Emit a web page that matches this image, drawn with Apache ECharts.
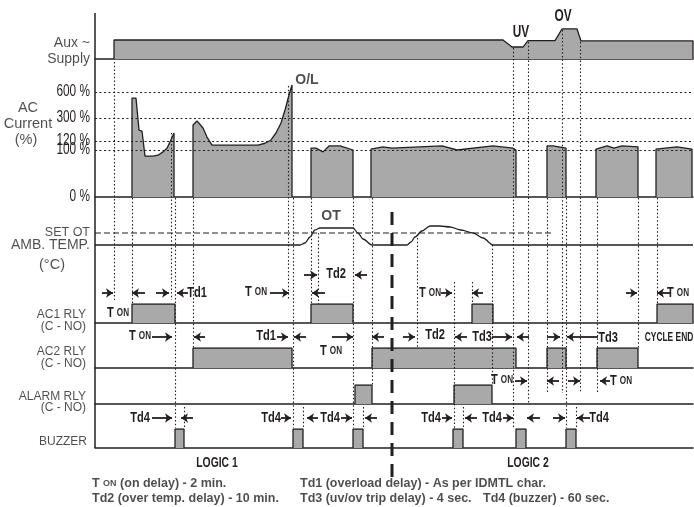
<!DOCTYPE html>
<html>
<head>
<meta charset="utf-8">
<script src="https://cdn.jsdelivr.net/npm/echarts@6/dist/echarts.min.js"></script>
<style>
html, body { margin: 0; padding: 0; background: #fff; }
#chart { width: 694px; height: 507px; }
</style>
</head>
<body>
<div id="chart"></div>
<script>
// ---- data (time runs 0..598 across the diagram) ----
const timeMax = 598;

// aux supply, % of rated
const auxSupply = [[19,0],[19,100],[408,100],[417,63],[428,63],[433,97],[460,97],[467,158],[482,158],[486,95],[598,95],[598,0]];

// AC current pulses, [time, % of rated]
const currentPulses = [
    [[37,0],[37,530],[41,530],[44,206],[47,198],[50,87],[58,87],[63,89],[68,96],[72,104],[75,118],[79,183],[79,0]],
    [[98,0],[98,245],[102,277],[108,222],[112,151],[117,111],[163,111],[170,115],[176,128],[181,183],[186,261],[190,392],[194,565],[197,681],[197,0]],
    [[216,0],[216,104],[221,104],[228,96],[234,109],[245,109],[258,100],[258,0]],
    [[276,0],[276,102],[288,107],[297,104],[347,109],[362,100],[398,109],[418,104],[421,100],[421,0]],
    [[452,0],[452,109],[458,109],[471,104],[471,0]],
    [[501,0],[501,102],[512,109],[519,104],[527,109],[543,107],[543,0]],
    [[561,0],[561,102],[582,107],[597,102],[597,0]]
];
const currentTicks = [0, 100, 120, 300, 600];
const currentLevels = [0, 47, 56, 79, 105];   // where each tick sits on the drawn scale

// ambient temperature, deg C
const ambTemp = [[0,35],[205,35],[210,37],[215,43],[220,50],[225,52],[230,52],[258,52],[263,47],[268,41],[277,35],
    [312,35],[316,38],[320,43],[327,49],[335,54],[345,54],[355,53],[366,50],[378,47],[388,42],[398,35],[598,35]];
const setOT = 47;
const setOTEnd = 457;

// relay / buzzer ON intervals [from, to]
const ac1On = [[37,80],[216,258],[377,398],[562,598]];
const ac2On = [[98,197],[277,421],[452,471],[502,543]];
const alarmOn = [[260,277],[359,397]];
const buzzerOn = [[80,89],[198,208],[258,268],[358,368],[421,431],[471,481]];

// event markers [time, from row, to row] and timing arrows [from, to, row]
const guideLines = [[19,62,300],[37,198,304],[76,133,300],[80,198,428],[89,407,428],[98,198,348],[193,86,300],
    [198,198,428],[208,407,428],[216,198,304],[223,233,304],[258,198,428],[268,407,428],[277,198,385],[322,238,348],
    [359,282,428],[368,407,428],[377,282,304],[397,245,385],[418,48,428],[433,42,404],[452,198,393],[467,30,393],
    [471,198,428],[481,407,428],[485,42,393],[502,198,393],[543,198,348],[562,198,304]];
const arrows = [
    [7,18,293],[50,37,293],[61,74,293],[93,82,293],[175,194,293],[230,217,293],[346,357,293],[388,377,293],[531,542,293],[575,562,293],
    [209,222,275],[272,260,275],
    [57,77,337],[110,99,337],[182,193,337],[211,199,337],[237,258,337],[289,277,337],[308,320,337],[372,360,337],[397,417,337],[434,422,337],[452,465,337],[503,472,337],
    [420,432,381],[464,452,381],[473,485,381],[515,505,381],
    [57,77,418],[98,86,418],[186,196,418],[223,212,418],[246,257,418],[282,270,418],[347,357,418],[382,370,418],[408,418,418],[445,432,418],[458,470,418],[495,482,418]
];
const logicSplit = 297;

// ---- text ----
const notes = [
    [23,313,'T ON'],[102,293,'Td1'],[161,292,'T ON'],[241,274,'Td2'],[335,293,'T ON'],[583,293,'T ON'],
    [45,336,'T ON'],[171,336,'Td1'],[236,351,'T ON'],[340,335,'Td2'],[387,337,'Td3'],[513,338,'Td3'],
    [407,380,'T ON'],[526,381,'T ON'],
    [45,418,'Td4'],[176,418,'Td4'],[235,418,'Td4'],[336,418,'Td4'],[397,418,'Td4'],[504,418,'Td4']
];
const events = [[212,80,'O/L'],[236,216,'OT']];
const narrowEvents = [[426,33,'UV'],[468,17,'OV']];
const logicLabels = [[122,463,'LOGIC 1'],[433,463,'LOGIC 2']];
const footer = [[-3,484,'T ON (on delay) - 2 min.'],[205,484,'Td1 (overload delay) - As per IDMTL char.'],
    [-3,499,'Td2 (over temp. delay) - 10 min.'],[205,499,'Td3 (uv/ov trip delay) - 4 sec.'],[388,499,'Td4 (buzzer) - 60 sec.']];

const INK = '#231f20';
const FILL = '#a9a9a9';
const FS = '"Liberation Sans",Arial,sans-serif';

function levelOf(p) {
    const n = currentTicks.length;
    for (let i = 1; i < n; i++) {
        if (p <= currentTicks[i] || i === n - 1) {
            const a = currentTicks[i - 1], b = currentTicks[i];
            return currentLevels[i - 1] + (p - a) / (b - a) * (currentLevels[i] - currentLevels[i - 1]);
        }
    }
}
const tOn = s => s.replace('T ON', 'T {s|ON}');

const rows = [
    { left: 0, right: 1, top: 0, bottom: 0 },   // 0 overlay
    { left: 95, right: 1, top: 9, height: 50 },   // 1 aux
    { left: 95, right: 1, top: 80, height: 117 }, // 2 current
    { left: 95, right: 1, top: 215, height: 40 }, // 3 temp
    { left: 95, right: 1, top: 304, height: 19 }, // 4 ac1
    { left: 95, right: 1, top: 348, height: 20 }, // 5 ac2
    { left: 95, right: 1, top: 385, height: 19 }, // 6 alarm
    { left: 95, right: 1, top: 429, height: 19 }  // 7 buzzer
];
const yRange = [[0,507],[0,263],[0,117],[25,65],[0,1],[0,1],[0,1],[0,1]];

const xAxis = rows.map((r, i) => i === 0
    ? { gridIndex: 0, type: 'value', min: -95, max: timeMax, show: false }
    : { gridIndex: i, type: 'value', min: 0, max: timeMax,
        axisLine: { show: i !== 3, onZero: false, lineStyle: { color: INK, width: 1.5 } },
        axisTick: { show: false }, axisLabel: { show: false }, splitLine: { show: false } });
const yAxis = rows.map((r, i) => ({ gridIndex: i, type: 'value', min: yRange[i][0], max: yRange[i][1],
    inverse: i === 0, show: false }));

function area(grid, data, z) {
    return { type: 'line', xAxisIndex: grid, yAxisIndex: grid, data, symbol: 'none', z: z || 2,
        lineStyle: { color: INK, width: 1.3 }, areaStyle: { color: FILL, opacity: 1 } };
}
const box = ([a, b]) => [[a, 0], [a, 1], [b, 1], [b, 0]];

const series = [];
series.push(area(1, auxSupply));
series.push({ type: 'line', xAxisIndex: 2, yAxisIndex: 2, data: [[0, 0]], symbol: 'none', z: 1,
    lineStyle: { opacity: 0 },
    markLine: { silent: true, symbol: 'none', animation: false, label: { show: false },
        lineStyle: { type: [2, 2.5], color: INK, width: 1 },
        data: currentTicks.slice(1).map(p => ({ yAxis: levelOf(p) })) } });
currentPulses.forEach(p => series.push(area(2, p.map(([t, v]) => [t, levelOf(v)]))));
series.push({ type: 'line', xAxisIndex: 3, yAxisIndex: 3, data: ambTemp, symbol: 'none', smooth: 0.3,
    smoothMonotone: 'x', lineStyle: { color: INK, width: 1.3 } });
series.push({ type: 'line', xAxisIndex: 3, yAxisIndex: 3, data: [[0, setOT], [setOTEnd, setOT]], symbol: 'none',
    lineStyle: { color: INK, width: 1.2, type: [6, 3] } });
[[4, ac1On], [5, ac2On], [6, alarmOn], [7, buzzerOn]].forEach(([g, list]) =>
    list.forEach(iv => series.push(area(g, box(iv)))));

// overlay: axis line, markers, arrows, text
series.push({ type: 'line', xAxisIndex: 0, yAxisIndex: 0, data: [[0, 13], [0, 448]], symbol: 'none', z: 6,
    lineStyle: { color: INK, width: 1.5 } });
series.push({ type: 'lines', coordinateSystem: 'cartesian2d', xAxisIndex: 0, yAxisIndex: 0, z: 5, silent: true,
    lineStyle: { color: INK, width: 1.1, type: [1.5, 2.2], opacity: 1 },
    data: guideLines.map(g => ({ coords: [[g[0], g[1]], [g[0], g[2]]] })) });
series.push({ type: 'lines', coordinateSystem: 'cartesian2d', xAxisIndex: 0, yAxisIndex: 0, z: 6, silent: true,
    symbol: ['none', 'arrow'], symbolSize: 7,
    lineStyle: { color: INK, width: 1.8, opacity: 1 },
    data: arrows.map(a => ({ coords: [[a[0], a[2]], [a[1], a[2]]] })) });
series.push({ type: 'line', xAxisIndex: 0, yAxisIndex: 0, data: [[logicSplit, 212], [logicSplit, 478]], symbol: 'none', z: 6,
    lineStyle: { color: INK, width: 3, type: [13, 8] } });

function textSeries(items, label) {
    return { type: 'scatter', xAxisIndex: 0, yAxisIndex: 0, symbolSize: 0, z: 8, silent: true,
        data: items.map(it => ({ value: [it[0], it[1]], label: { formatter: tOn(it[2]) } })),
        label: Object.assign({ show: true, color: INK }, label) };
}
series.push(textSeries(events, { position: 'inside', fontFamily: FS, fontWeight: 'bold', fontSize: 14 }));
series.push(textSeries(footer, { position: 'right', distance: 0, fontFamily: FS, fontWeight: 'bold', fontSize: 12.5,
    rich: { s: { fontFamily: FS, fontWeight: 'bold', fontSize: 9, color: INK } } }));
// row titles, right aligned
series.push(textSeries([[-5,43,'Aux ~'],[-5,59,'Supply'],[-5,245,'AMB. TEMP.']], { position: 'left', distance: 0, fontFamily: FS, fontSize: 14 }));
series.push(textSeries([[-5,233,'SET OT']], { position: 'left', distance: 0, fontFamily: FS, fontSize: 12.5 }));
series.push(textSeries([[-9,315,'AC1 RLY'],[-9,327,'(C - NO)'],[-9,352,'AC2 RLY'],[-9,364,'(C - NO)'],
    [-9,397,'ALARM RLY'],[-9,408,'(C - NO)'],[-8,442,'BUZZER']], { position: 'left', distance: 0, fontFamily: FS, fontSize: 12 }));
// centred titles
series.push(textSeries([[-67,108,'AC'],[-67,124,'Current'],[-69,140,'(%)'],[-43,265,'(°C)']],
    { position: 'inside', fontFamily: FS, fontSize: 14.5 }));

const chart = echarts.init(document.getElementById('chart'));
chart.setOption({
    animation: false,
    backgroundColor: '#fff',
    grid: rows,
    xAxis,
    yAxis,
    series
});

// condensed lettering: placed through the axes, then squeezed horizontally
function narrow(items, grid, size, opts) {
    return items.map(it => {
        const [px, py] = chart.convertToPixel({ gridIndex: grid }, [it[0], it[1]]);
        return {
            type: 'text', x: px + (opts.dx || 0), y: py, scaleX: opts.scale || 0.74, z: 100, silent: true,
            style: {
                text: tOn(it[2]), fill: INK, font: (opts.bold === false ? '' : 'bold ') + size + 'px ' + FS,
                align: opts.align || 'center', verticalAlign: 'middle',
                textAlign: opts.align || 'center', textVerticalAlign: 'middle',
                rich: { s: { fill: INK, font: 'bold ' + Math.round(size * 0.7) + 'px ' + FS } }
            }
        };
    });
}
const tickItems = currentTicks.map(p => [0, levelOf(p), p + ' %']);
chart.setOption({
    graphic: [].concat(
        narrow(notes, 0, 15, {}),
        narrow([[574, 338, 'CYCLE END']], 0, 12, { scale: 0.7 }),
        narrow(narrowEvents, 0, 16, {}),
        narrow(logicLabels, 0, 14, {}),
        narrow(tickItems, 2, 16, { bold: false, align: 'right', dx: -5, scale: 0.74 })
    )
});
</script>
</body>
</html>
